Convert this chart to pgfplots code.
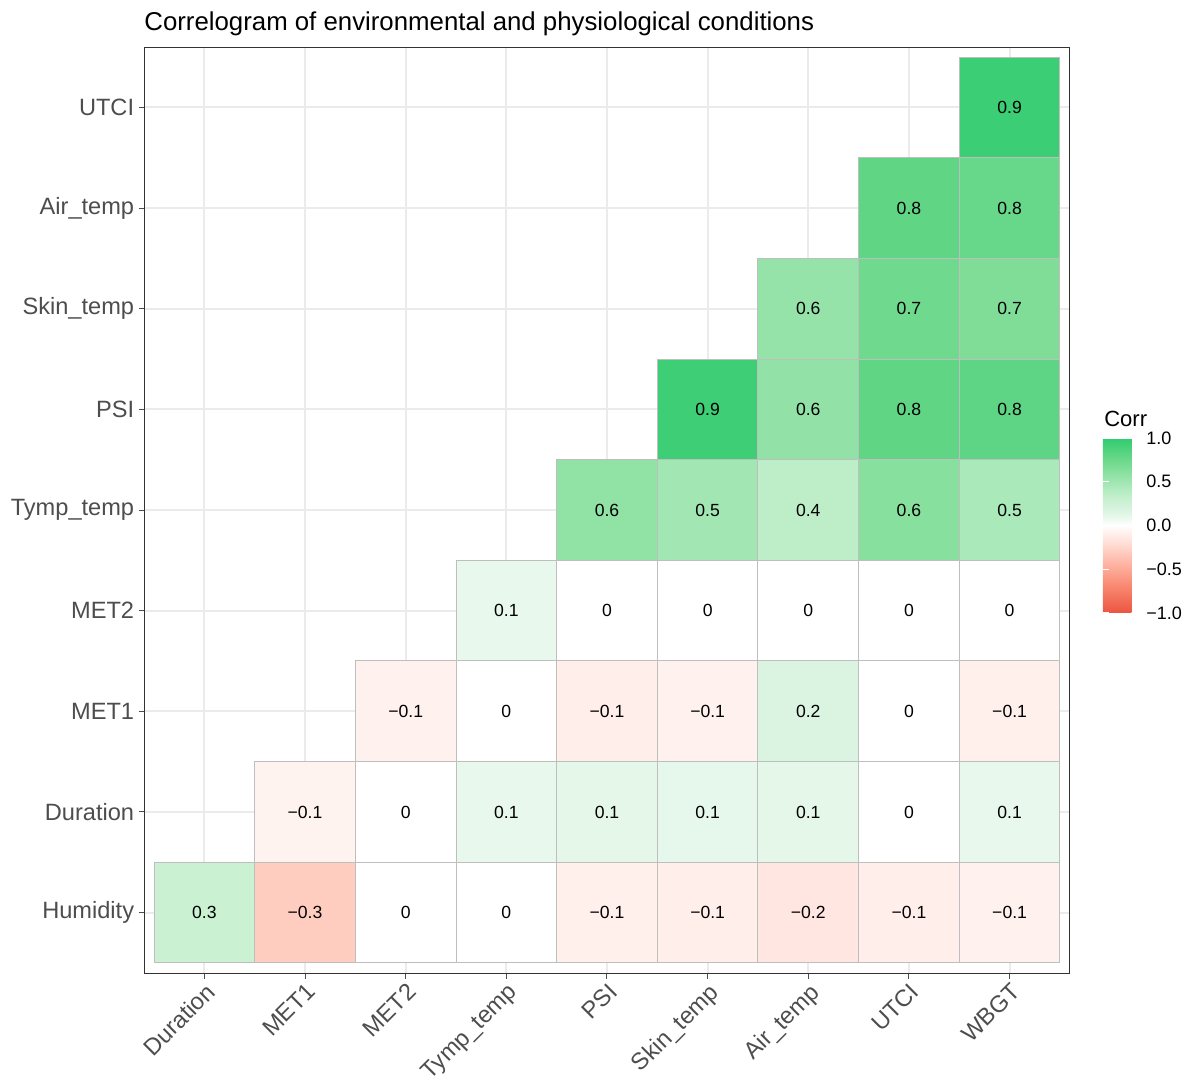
\documentclass[border=0pt]{standalone}
\usepackage{fontspec}
\setmainfont{Liberation Sans}
\usepackage{pgfplots}
\pgfplotsset{compat=1.18}
\usepgfplotslibrary{patchplots}
\usepackage{pgfplotstable}

\definecolor{tickgray}{RGB}{77,77,77}
\definecolor{gridgray}{RGB}{235,235,235}
\definecolor{tilegray}{RGB}{190,190,190}

% cell centres: x = column, y = row, c = correlation, lab = printed value
\pgfplotstableread{
x y c lab
1 1 0.28 0.3
2 1 -0.30 −0.3
3 1 0.00 0
4 1 0.00 0
5 1 -0.09 −0.1
6 1 -0.10 −0.1
7 1 -0.15 −0.2
8 1 -0.10 −0.1
9 1 -0.08 −0.1
2 2 -0.07 −0.1
3 2 0.00 0
4 2 0.10 0.1
5 2 0.12 0.1
6 2 0.11 0.1
7 2 0.12 0.1
8 2 0.00 0
9 2 0.10 0.1
3 3 -0.08 −0.1
4 3 0.00 0
5 3 -0.10 −0.1
6 3 -0.08 −0.1
7 3 0.18 0.2
8 3 0.00 0
9 3 -0.09 −0.1
4 4 0.10 0.1
5 4 0.00 0
6 4 0.00 0
7 4 0.00 0
8 4 0.00 0
9 4 0.00 0
5 5 0.58 0.6
6 5 0.49 0.5
7 5 0.35 0.4
8 5 0.62 0.6
9 5 0.45 0.5
6 6 0.94 0.9
7 6 0.57 0.6
8 6 0.80 0.8
9 6 0.81 0.8
7 7 0.55 0.6
8 7 0.73 0.7
9 7 0.66 0.7
8 8 0.80 0.8
9 8 0.77 0.8
9 9 0.95 0.9
}\corrdata

% tile corners (4 per cell) with the same correlation
\pgfplotstableread{
x y c
0.5 0.5 0.28
1.5 0.5 0.28
1.5 1.5 0.28
0.5 1.5 0.28
1.5 0.5 -0.30
2.5 0.5 -0.30
2.5 1.5 -0.30
1.5 1.5 -0.30
2.5 0.5 0.00
3.5 0.5 0.00
3.5 1.5 0.00
2.5 1.5 0.00
3.5 0.5 0.00
4.5 0.5 0.00
4.5 1.5 0.00
3.5 1.5 0.00
4.5 0.5 -0.09
5.5 0.5 -0.09
5.5 1.5 -0.09
4.5 1.5 -0.09
5.5 0.5 -0.10
6.5 0.5 -0.10
6.5 1.5 -0.10
5.5 1.5 -0.10
6.5 0.5 -0.15
7.5 0.5 -0.15
7.5 1.5 -0.15
6.5 1.5 -0.15
7.5 0.5 -0.10
8.5 0.5 -0.10
8.5 1.5 -0.10
7.5 1.5 -0.10
8.5 0.5 -0.08
9.5 0.5 -0.08
9.5 1.5 -0.08
8.5 1.5 -0.08
1.5 1.5 -0.07
2.5 1.5 -0.07
2.5 2.5 -0.07
1.5 2.5 -0.07
2.5 1.5 0.00
3.5 1.5 0.00
3.5 2.5 0.00
2.5 2.5 0.00
3.5 1.5 0.10
4.5 1.5 0.10
4.5 2.5 0.10
3.5 2.5 0.10
4.5 1.5 0.12
5.5 1.5 0.12
5.5 2.5 0.12
4.5 2.5 0.12
5.5 1.5 0.11
6.5 1.5 0.11
6.5 2.5 0.11
5.5 2.5 0.11
6.5 1.5 0.12
7.5 1.5 0.12
7.5 2.5 0.12
6.5 2.5 0.12
7.5 1.5 0.00
8.5 1.5 0.00
8.5 2.5 0.00
7.5 2.5 0.00
8.5 1.5 0.10
9.5 1.5 0.10
9.5 2.5 0.10
8.5 2.5 0.10
2.5 2.5 -0.08
3.5 2.5 -0.08
3.5 3.5 -0.08
2.5 3.5 -0.08
3.5 2.5 0.00
4.5 2.5 0.00
4.5 3.5 0.00
3.5 3.5 0.00
4.5 2.5 -0.10
5.5 2.5 -0.10
5.5 3.5 -0.10
4.5 3.5 -0.10
5.5 2.5 -0.08
6.5 2.5 -0.08
6.5 3.5 -0.08
5.5 3.5 -0.08
6.5 2.5 0.18
7.5 2.5 0.18
7.5 3.5 0.18
6.5 3.5 0.18
7.5 2.5 0.00
8.5 2.5 0.00
8.5 3.5 0.00
7.5 3.5 0.00
8.5 2.5 -0.09
9.5 2.5 -0.09
9.5 3.5 -0.09
8.5 3.5 -0.09
3.5 3.5 0.10
4.5 3.5 0.10
4.5 4.5 0.10
3.5 4.5 0.10
4.5 3.5 0.00
5.5 3.5 0.00
5.5 4.5 0.00
4.5 4.5 0.00
5.5 3.5 0.00
6.5 3.5 0.00
6.5 4.5 0.00
5.5 4.5 0.00
6.5 3.5 0.00
7.5 3.5 0.00
7.5 4.5 0.00
6.5 4.5 0.00
7.5 3.5 0.00
8.5 3.5 0.00
8.5 4.5 0.00
7.5 4.5 0.00
8.5 3.5 0.00
9.5 3.5 0.00
9.5 4.5 0.00
8.5 4.5 0.00
4.5 4.5 0.58
5.5 4.5 0.58
5.5 5.5 0.58
4.5 5.5 0.58
5.5 4.5 0.49
6.5 4.5 0.49
6.5 5.5 0.49
5.5 5.5 0.49
6.5 4.5 0.35
7.5 4.5 0.35
7.5 5.5 0.35
6.5 5.5 0.35
7.5 4.5 0.62
8.5 4.5 0.62
8.5 5.5 0.62
7.5 5.5 0.62
8.5 4.5 0.45
9.5 4.5 0.45
9.5 5.5 0.45
8.5 5.5 0.45
5.5 5.5 0.94
6.5 5.5 0.94
6.5 6.5 0.94
5.5 6.5 0.94
6.5 5.5 0.57
7.5 5.5 0.57
7.5 6.5 0.57
6.5 6.5 0.57
7.5 5.5 0.80
8.5 5.5 0.80
8.5 6.5 0.80
7.5 6.5 0.80
8.5 5.5 0.81
9.5 5.5 0.81
9.5 6.5 0.81
8.5 6.5 0.81
6.5 6.5 0.55
7.5 6.5 0.55
7.5 7.5 0.55
6.5 7.5 0.55
7.5 6.5 0.73
8.5 6.5 0.73
8.5 7.5 0.73
7.5 7.5 0.73
8.5 6.5 0.66
9.5 6.5 0.66
9.5 7.5 0.66
8.5 7.5 0.66
7.5 7.5 0.80
8.5 7.5 0.80
8.5 8.5 0.80
7.5 8.5 0.80
8.5 7.5 0.77
9.5 7.5 0.77
9.5 8.5 0.77
8.5 8.5 0.77
8.5 8.5 0.95
9.5 8.5 0.95
9.5 9.5 0.95
8.5 9.5 0.95
}\tiles

\begin{document}
\begin{tikzpicture}
\useasboundingbox (-72pt,-55.5pt) rectangle (524pt,486.5pt);
\begin{axis}[
  at={(0,0)}, anchor=south west,
  scale only axis,
  width=463pt, height=463pt,
  xmin=0.4, xmax=9.6, ymin=0.4, ymax=9.6,
  xtick={1,...,9}, ytick={1,...,9},
  xticklabels={Duration,MET1,MET2,Tymp\_temp,PSI,Skin\_temp,Air\_temp,UTCI,WBGT},
  yticklabels={Humidity,Duration,MET1,MET2,Tymp\_temp,PSI,Skin\_temp,Air\_temp,UTCI},
  xticklabel style={rotate=45, anchor=north east, font=\fontsize{11.8}{13}\selectfont, text=tickgray, inner sep=1pt},
  yticklabel style={font=\fontsize{11.8}{13}\selectfont, text=tickgray, inner sep=2pt},
  xtick pos=left, ytick pos=left,
  tick align=outside, major tick length=2.75pt,
  tick style={tickgray, line width=0.5pt},
  grid=major,
  major grid style={gridgray, line width=1pt},
  axis line style={black!80, line width=0.5pt},
  title={Correlogram of environmental and physiological conditions},
  title style={at={(0,1)}, anchor=south west, xshift=-2pt, yshift=-2.5pt, inner sep=2pt, font=\fontsize{12.9}{14}\selectfont},
  colormap={corr}{
    rgb255(0pt)=(236,84,64);
    rgb255(3pt)=(248,135,112);
    rgb255(5pt)=(252,170,150);
    rgb255(7pt)=(255,205,192);
    rgb255(8pt)=(255,222,214);
    rgb255(9pt)=(255,238,234);
    rgb255(10pt)=(255,255,255);
    rgb255(11pt)=(232,248,236);
    rgb255(12pt)=(214,243,222);
    rgb255(13pt)=(200,240,208);
    rgb255(14pt)=(180,236,193);
    rgb255(15pt)=(160,230,178);
    rgb255(16pt)=(140,225,162);
    rgb255(17pt)=(118,219,146);
    rgb255(18pt)=(96,214,133);
    rgb255(19pt)=(72,209,122);
    rgb255(20pt)=(46,204,113)
  },
  point meta min=-1, point meta max=1,
  colorbar right,
  colorbar style={
    at={(1.0356,0.3888)}, anchor=south west,
    width=17.5pt, height=87.5pt,
    ytick={-1,-0.5,0,0.5,1},
    yticklabels={−1.0,−0.5,0.0,0.5,1.0},
    yticklabel pos=right,
    ytick pos=both,
    tick align=inside,
    major tick length=3pt,
    tick style={white, line width=0.6pt},
    axis line style={draw=none},
    yticklabel style={font=\fontsize{9}{10}\selectfont, text=black, inner sep=4pt},
    title={Corr},
    title style={at={(0,1)}, anchor=south west, xshift=-1.5pt, yshift=-2.5pt, inner sep=2pt, font=\fontsize{11}{12}\selectfont},
  },
]
\addplot[
  patch, patch type=rectangle,
  shader=faceted, faceted color=tilegray,
  line width=0.5pt,
  point meta=explicit,
] table[x=x, y=y, meta=c] {\tiles};

\addplot[
  only marks, mark=none,
  point meta=explicit symbolic,
  nodes near coords,
  every node near coord/.append style={anchor=center, text=black, font=\fontsize{8.8}{10}\selectfont},
] table[x=x, y=y, meta=lab] {\corrdata};
\end{axis}
\end{tikzpicture}
\end{document}
